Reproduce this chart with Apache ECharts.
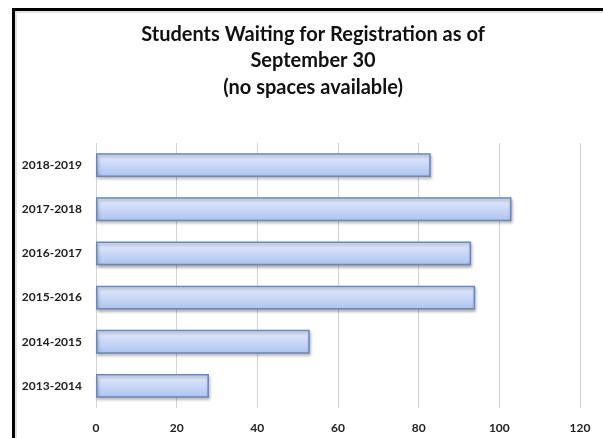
<!DOCTYPE html>
<html>
<head>
<meta charset="utf-8">
<script src="https://cdn.jsdelivr.net/npm/echarts@6/dist/echarts.min.js"></script>
<style>
  html, body { margin: 0; padding: 0; background: #fff; }
  #chart { width: 603px; height: 438px; }
</style>
</head>
<body>
<div id="chart"></div>
<script>
// school years, bottom to top as drawn
var years = ['2013-2014', '2014-2015', '2015-2016', '2016-2017', '2017-2018', '2018-2019']
// students waiting
var waiting = [28, 53, 94, 93, 103, 83]
var xTicks = [0, 20, 40, 60, 80, 100, 120]

var myChart = echarts.init(document.getElementById('chart'))
var option = {
  animation: false,
  title: {
    text: 'Students Waiting for Registration as of\nSeptember 30\n(no spaces available)',
    left: 308,
    textAlign: 'center',
    top: 16,
    textStyle: {
      fontFamily: 'Lato',
      fontWeight: 'bold',
      fontSize: 20,
      lineHeight: 26.5,
      color: '#111'
    }
  },
  // frame round the chart, like the screenshot
  graphic: [
    { type: 'rect', shape: { x: 12, y: 8, width: 620, height: 3 }, style: { fill: '#000' } },
    { type: 'rect', shape: { x: 12, y: 8, width: 3, height: 440 }, style: { fill: '#000' } },
    { type: 'rect', shape: { x: 15, y: 11, width: 620, height: 2 }, style: { fill: '#e2e2e2' } },
    { type: 'rect', shape: { x: 15, y: 11, width: 2, height: 440 }, style: { fill: '#e2e2e2' } }
  ],
  grid: {
    left: 96,
    right: 23,
    top: 143,
    bottom: 30
  },
  xAxis: {
    type: 'value',
    min: 0,
    max: 120,
    interval: 20,
    axisLine: { show: false },
    axisTick: { show: false },
    axisLabel: {
      margin: 14,
      fontFamily: 'Lato',
      fontWeight: 'bold',
      fontSize: 12,
      color: '#222',
      formatter: function(v) { return xTicks.indexOf(v) >= 0 ? String(v) : '' }
    },
    splitLine: {
      show: true,
      lineStyle: { color: '#d4d4d4', width: 1 }
    }
  },
  yAxis: {
    type: 'category',
    data: years,
    axisLine: { show: false },
    axisTick: { show: false },
    axisLabel: {
      margin: 14,
      fontFamily: 'Lato',
      fontWeight: 'bold',
      fontSize: 12,
      color: '#222'
    }
  },
  series: [
    {
      type: 'bar',
      data: waiting,
      barCategoryGap: '46%',
      itemStyle: {
        color: new echarts.graphic.LinearGradient(0, 0, 0, 1, [
          { offset: 0, color: '#e6edfc' },
          { offset: 1, color: '#adc2ef' }
        ]),
        borderColor: '#6886c4',
        borderWidth: 1.5,
        shadowColor: 'rgba(0, 0, 0, 0.3)',
        shadowBlur: 3,
        shadowOffsetX: 1,
        shadowOffsetY: 2
      }
    }
  ]
}
myChart.setOption(option)
</script>
</body>
</html>
